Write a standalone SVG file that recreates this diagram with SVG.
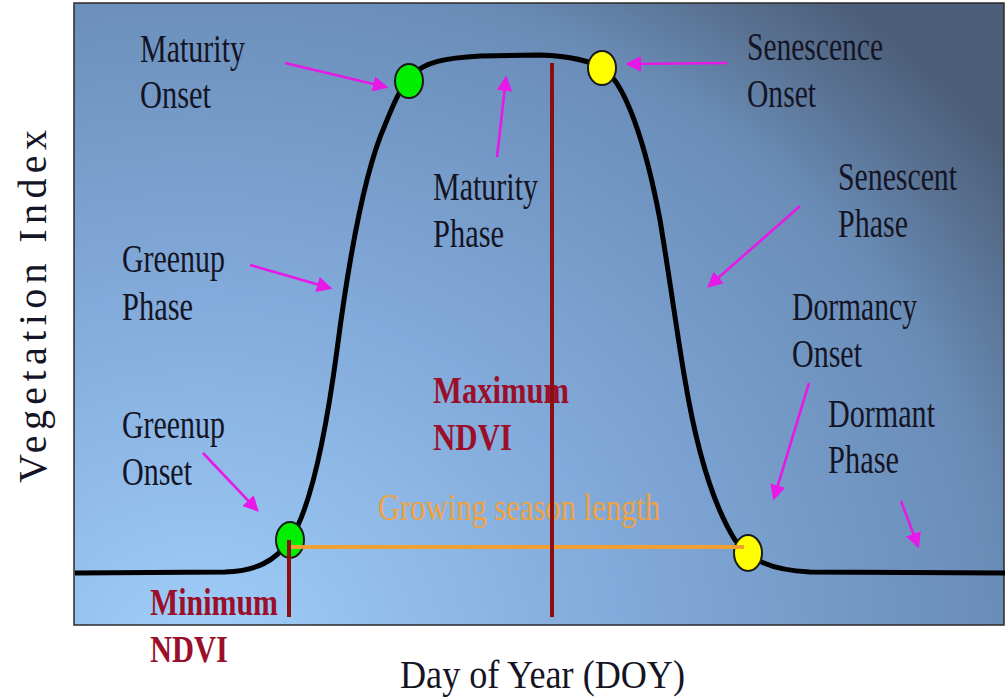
<svg xmlns="http://www.w3.org/2000/svg" width="1005" height="700" viewBox="0 0 1005 700">
<defs>
<radialGradient id="bg" gradientUnits="userSpaceOnUse" cx="200" cy="650" r="1000" fx="200" fy="650" gradientTransform="translate(200,650) scale(1,0.85) translate(-200,-650)">
<stop offset="0" stop-color="#A0CEF9"/>
<stop offset="0.42" stop-color="#82AADA"/>
<stop offset="0.8" stop-color="#6A8DB8"/>
<stop offset="0.92" stop-color="#58708F"/>
<stop offset="1" stop-color="#4B5E79"/>
</radialGradient>
<marker id="ah" markerWidth="6" markerHeight="6" refX="5" refY="3" orient="auto" markerUnits="strokeWidth">
<path d="M0,0 L6,3 L0,6 Z" fill="#E619E6"/>
</marker>
<style>
.lbl{font-family:"Liberation Serif","Times New Roman",serif;font-size:40px;fill:#141424}
.red{font-family:"Liberation Serif","Times New Roman",serif;font-size:38px;font-weight:bold;fill:#9A0F2A}
.org{font-family:"Liberation Serif","Times New Roman",serif;font-size:38px;fill:#F2A23C}
.arr{stroke:#E619E6;stroke-width:2.6;fill:none;marker-end:url(#ah)}
.dot{stroke:#1a1a1a;stroke-width:2}
</style>
</defs>
<rect x="0" y="0" width="1005" height="700" fill="#ffffff"/>
<rect id="plot" x="74" y="3" width="930" height="622" fill="url(#bg)" stroke="#2a2a2a" stroke-width="1.5"/>

<g id="curve">
<path d="M75,573 L225,572 C255,571 275,562 290,540 C310,510 325,440 337,350 C350,250 365,170 385,125 C395,100 402,85 412,75 C425,62 445,58 480,56 L540,55 C570,56 590,60 605,70 C625,85 645,140 660,220 C670,280 678,340 685,380 C695,440 710,500 735,540 C750,560 770,570 810,572 L1005,573" fill="none" stroke="#000000" stroke-width="5" stroke-linejoin="round"/>
</g>

<g id="points">
<ellipse id="greenup-onset" class="dot" cx="290" cy="540" rx="14" ry="18" fill="#00EE00"/>
<ellipse id="maturity-onset" class="dot" cx="409" cy="81" rx="14" ry="17" fill="#00EE00"/>
<ellipse id="senescence-onset" class="dot" cx="602" cy="68" rx="14" ry="17" fill="#FFFF00"/>
<ellipse id="dormancy-onset" class="dot" cx="748" cy="553" rx="14" ry="18" fill="#FFFF00"/>
</g>

<g id="labels">
<text class="lbl" x="140" y="62" textLength="105" lengthAdjust="spacingAndGlyphs">Maturity</text>
<text class="lbl" x="140" y="108" textLength="71" lengthAdjust="spacingAndGlyphs">Onset</text>
<text class="lbl" x="122" y="272" textLength="103" lengthAdjust="spacingAndGlyphs">Greenup</text>
<text class="lbl" x="122" y="320" textLength="71" lengthAdjust="spacingAndGlyphs">Phase</text>
<text class="lbl" x="433" y="200" textLength="105" lengthAdjust="spacingAndGlyphs">Maturity</text>
<text class="lbl" x="433" y="247" textLength="71" lengthAdjust="spacingAndGlyphs">Phase</text>
<text class="lbl" x="747" y="60" textLength="136" lengthAdjust="spacingAndGlyphs">Senescence</text>
<text class="lbl" x="747" y="107" textLength="69" lengthAdjust="spacingAndGlyphs">Onset</text>
<text class="lbl" x="838" y="190" textLength="119" lengthAdjust="spacingAndGlyphs">Senescent</text>
<text class="lbl" x="838" y="237" textLength="70" lengthAdjust="spacingAndGlyphs">Phase</text>
<text class="lbl" x="792" y="320" textLength="125" lengthAdjust="spacingAndGlyphs">Dormancy</text>
<text class="lbl" x="792" y="367" textLength="70" lengthAdjust="spacingAndGlyphs">Onset</text>
<text class="lbl" x="828" y="427" textLength="107" lengthAdjust="spacingAndGlyphs">Dormant</text>
<text class="lbl" x="828" y="473" textLength="71" lengthAdjust="spacingAndGlyphs">Phase</text>
<text class="lbl" x="122" y="438" textLength="103" lengthAdjust="spacingAndGlyphs">Greenup</text>
<text class="lbl" x="122" y="485" textLength="70" lengthAdjust="spacingAndGlyphs">Onset</text>
<text class="red" x="433" y="403" textLength="136" lengthAdjust="spacingAndGlyphs">Maximum</text>
<text class="red" x="433" y="450" textLength="79" lengthAdjust="spacingAndGlyphs">NDVI</text>
<text class="red" x="150" y="615" textLength="128" lengthAdjust="spacingAndGlyphs">Minimum</text>
<text class="red" x="150" y="662" textLength="78" lengthAdjust="spacingAndGlyphs">NDVI</text>
<text class="org" x="378" y="520" textLength="282" lengthAdjust="spacingAndGlyphs">Growing season length</text>
<text class="lbl" x="400" y="688" font-size="42" textLength="285" lengthAdjust="spacingAndGlyphs" fill="#111111">Day of Year (DOY)</text>
<text class="lbl" transform="translate(46,483) rotate(-90)" x="0" y="0" font-size="43" textLength="353" lengthAdjust="spacing" fill="#111111">Vegetation Index</text>
</g>

<g id="measures">
<line x1="290" y1="547" x2="744" y2="547" stroke="#F0A030" stroke-width="4"/>
<line x1="289" y1="540" x2="289" y2="617" stroke="#8B0E10" stroke-width="4"/>
<line x1="552" y1="63" x2="552" y2="617" stroke="#8B0E10" stroke-width="4"/>
</g>

<g id="connectors">
<line class="arr" x1="285" y1="63" x2="386" y2="87"/>
<line class="arr" x1="250" y1="265" x2="330" y2="288"/>
<line class="arr" x1="497" y1="157" x2="506" y2="78"/>
<line class="arr" x1="727" y1="63" x2="628" y2="64"/>
<line class="arr" x1="800" y1="206" x2="709" y2="286"/>
<line class="arr" x1="809" y1="383" x2="774" y2="498"/>
<line class="arr" x1="901" y1="501" x2="918" y2="546"/>
<line class="arr" x1="203" y1="453" x2="257" y2="510"/>
</g>
</svg>
